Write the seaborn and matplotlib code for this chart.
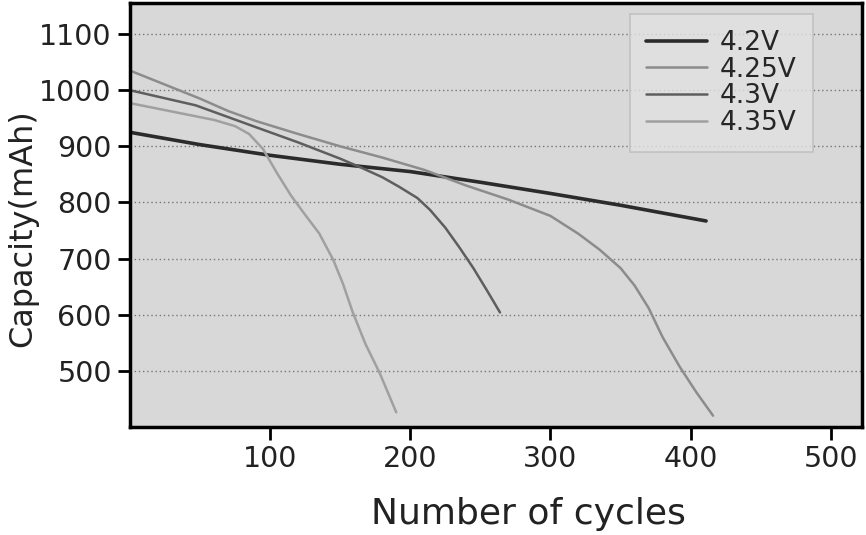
import matplotlib
matplotlib.use('Agg')
import matplotlib.pyplot as plt
import seaborn as sns
import pandas as pd

# capacity fade per charge voltage
cycles_420 = [0, 50, 100, 150, 200, 250, 300, 350, 411]
cap_420 = [925, 903, 884, 868, 855, 836, 816, 795, 767]

cycles_425 = [0, 25, 50, 70, 90, 120, 150, 180, 210, 240, 270, 300, 320, 335, 350, 360,
              370, 380, 392, 404, 416]
cap_425 = [1035, 1010, 985, 963, 945, 922, 900, 880, 858, 830, 805, 776, 744, 716, 683, 652,
           612, 560, 508, 462, 420]

cycles_430 = [0, 47, 90, 120, 150, 165, 180, 192, 205, 214, 225, 235, 245, 255, 264]
cap_430 = [1000, 973, 934, 907, 878, 862, 845, 828, 808, 787, 755, 720, 683, 642, 604]

cycles_435 = [0, 30, 60, 75, 85, 95, 105, 115, 125, 135, 145, 152, 159, 168, 178, 190]
cap_435 = [977, 962, 947, 936, 922, 895, 852, 812, 778, 745, 698, 655, 604, 548, 497, 426]

labels = ['4.2V', '4.25V', '4.3V', '4.35V']
colors = ['#2b2b2b', '#8c8c8c', '#5e5e5e', '#a0a0a0']
widths = [2.6, 1.8, 1.8, 1.8]

frames = []
for lab, xs, ys in zip(labels,
                       [cycles_420, cycles_425, cycles_430, cycles_435],
                       [cap_420, cap_425, cap_430, cap_435]):
    frames.append(pd.DataFrame({'cycles': xs, 'capacity': ys, 'voltage': lab}))
df = pd.concat(frames, ignore_index=True)

sns.set_theme(style='white')
plt.rcParams['font.family'] = ['DejaVu Sans']

fig = plt.figure(figsize=(8.66, 5.35), dpi=100)
ax = fig.add_axes([0.150, 0.202, 0.845, 0.792])
ax.set_facecolor('#d8d8d8')

sns.lineplot(data=df, x='cycles', y='capacity', hue='voltage', hue_order=labels,
             palette=dict(zip(labels, colors)), sort=False, estimator=None, ax=ax)
for line, lw in zip(ax.get_lines(), widths):
    line.set_linewidth(lw)

ax.set_xlim(0, 522)
ax.set_ylim(400, 1155)
ax.set_xticks([100, 200, 300, 400, 500])
ax.set_yticks([500, 600, 700, 800, 900, 1000, 1100])
ax.yaxis.grid(True, linestyle=(0, (1, 2)), color='#777777', linewidth=1)
ax.xaxis.grid(False)

for sp in ax.spines.values():
    sp.set_linewidth(2.5)
    sp.set_color('black')
ax.tick_params(axis='both', direction='out', length=9, width=2, color='black',
               labelsize=20.5, labelcolor='#222222', pad=4)
ax.tick_params(left=True, bottom=True)

ax.set_xlabel('Number of cycles', fontsize=26, color='#222222')
ax.set_ylabel('Capacity(mAh)', fontsize=23, color='#222222')
ax.xaxis.set_label_coords(0.545, -0.165)
ax.yaxis.set_label_coords(-0.125, 0.47)

leg = ax.legend(loc='upper right', bbox_to_anchor=(0.922, 0.955), fontsize=19,
                handlelength=2.3, handletextpad=0.5, labelspacing=0.02,
                frameon=True, borderpad=0.3, borderaxespad=0)
leg.get_frame().set_facecolor('#e2e2e2')
leg.get_frame().set_edgecolor('#bbbbbb')
leg.get_frame().set_linewidth(1.2)
leg.get_frame().set_boxstyle('square')
for h, lw in zip(leg.get_lines(), widths):
    h.set_linewidth(lw)

fig.savefig('out.png', dpi=100)
plt.close()
